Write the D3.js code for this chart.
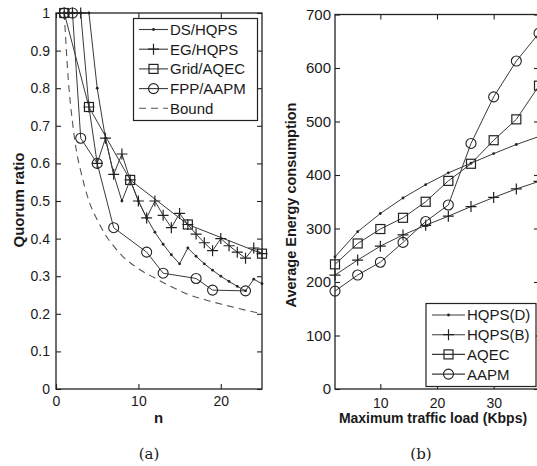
<!DOCTYPE html>
<html>
<head>
<meta charset="utf-8">
<script src="https://cdn.jsdelivr.net/npm/d3@7/dist/d3.min.js"></script>
<style>
  body { margin: 0; background: #fff; }
  svg { display: block; }
  text { font-family: "Liberation Sans", Arial, sans-serif; fill: #1a1a1a; }
</style>
</head>
<body>
<svg id="fig" width="537" height="466"></svg>
<script>
// ---- (a) quorum ratio vs n ----
const dsN = [1, 2, 3, 4, 5, 6, 7, 8, 9, 10, 11, 12, 13, 14, 15, 16, 17, 18, 19, 20, 21, 22, 23, 24, 25];
const dsRatio = [1, 1, 1, 1, 0.8, 0.667, 0.571, 0.5, 0.556, 0.5, 0.455, 0.417, 0.385, 0.357, 0.333,
  0.375, 0.353, 0.333, 0.316, 0.3, 0.286, 0.273, 0.261, 0.292, 0.28];
const egN = [1, 2, 3, 4, 5, 6, 7, 8, 9, 10, 11, 12, 13, 14, 15, 16, 17, 18, 19, 20, 21, 22, 23, 24, 25];
const egRatio = [1, 1, 1, 0.75, 0.6, 0.667, 0.571, 0.625, 0.556, 0.5, 0.455, 0.5, 0.462, 0.429, 0.467,
  0.4375, 0.412, 0.389, 0.368, 0.4, 0.381, 0.364, 0.348, 0.375, 0.36];
const gridN = [1, 4, 9, 16, 25];
const gridRatio = [1, 0.75, 0.556, 0.4375, 0.36];
const fppN = [1, 2, 3, 5, 7, 11, 13, 17, 19, 23];
const fppRatio = [1, 1, 0.667, 0.6, 0.429, 0.364, 0.308, 0.294, 0.263, 0.261];
const boundN = [1, 1.5, 2, 2.5, 3, 4, 5, 6, 7, 8, 10, 12, 14, 16, 18, 20, 22, 25];
const boundRatio = [1, 0.82, 0.71, 0.63, 0.58, 0.5, 0.45, 0.41, 0.38, 0.355, 0.32, 0.295, 0.272,
  0.252, 0.238, 0.226, 0.215, 0.2];
const legendA = ["DS/HQPS", "EG/HQPS", "Grid/AQEC", "FPP/AAPM", "Bound"];
const xTicksA = [0, 10, 20];
const yTicksA = [0, 0.1, 0.2, 0.3, 0.4, 0.5, 0.6, 0.7, 0.8, 0.9, 1];

// ---- (b) energy vs traffic load ----
const loadKbps = [2, 6, 10, 14, 18, 22, 26, 30, 34, 38];
const hqpsD = [247, 294, 328, 357, 382, 404, 422, 440, 457, 472];
const hqpsB = [213, 241, 267, 288, 306, 323, 341, 358, 374, 388];
const aqec = [233, 272, 299, 320, 350, 389, 421, 465, 504, 567];
const aapm = [183, 213, 237, 274, 313, 344, 459, 546, 613, 665];
const legendB = ["HQPS(D)", "HQPS(B)", "AQEC", "AAPM"];
const xTicksB = [10, 20, 30];
const yTicksB = [0, 100, 200, 300, 400, 500, 600, 700];

const ink = "#222";
const lineCol = "#3a3a3a";
const svg = d3.select("#fig");

function zip(xs, ys) { return xs.map((x, i) => [x, ys[i]]); }

function marker(g, type, cx, cy) {
  if (type === "dot") {
    g.append("circle").attr("cx", cx).attr("cy", cy).attr("r", 1.4).attr("fill", ink);
  } else if (type === "plus") {
    g.append("path").attr("d", `M${cx - 5.5},${cy}H${cx + 5.5}M${cx},${cy - 5.5}V${cy + 5.5}`)
      .attr("stroke", ink).attr("stroke-width", 1.2).attr("fill", "none");
  } else if (type === "square") {
    g.append("rect").attr("x", cx - 4.5).attr("y", cy - 4.5).attr("width", 9).attr("height", 9)
      .attr("stroke", ink).attr("stroke-width", 1.2).attr("fill", "none");
  } else if (type === "circle") {
    g.append("circle").attr("cx", cx).attr("cy", cy).attr("r", 5)
      .attr("stroke", ink).attr("stroke-width", 1.1).attr("fill", "none");
  }
}

function series(g, x, y, pts, type, dashed, curve) {
  const line = d3.line().x(d => x(d[0])).y(d => y(d[1]));
  if (curve) line.curve(d3.curveMonotoneX);
  g.append("path").datum(pts).attr("d", line).attr("fill", "none")
    .attr("stroke", dashed ? "#555" : lineCol).attr("stroke-width", dashed ? 1.1 : 1)
    .attr("stroke-dasharray", dashed ? "7,5" : null);
  if (type) pts.forEach(d => marker(g, type, x(d[0]), y(d[1])));
}

function axes(x, y, xTicks, yTicks, yFmt, opt) {
  const [x0, x1] = x.range();
  const [y0, y1] = y.range();
  const bottom = svg.append("g").attr("transform", `translate(0,${y0})`)
    .call(d3.axisBottom(x).tickValues(xTicks).tickSize(-5).tickPadding(opt.xPad));
  svg.append("g").attr("transform", `translate(0,${y1})`)
    .call(d3.axisTop(x).tickValues(xTicks).tickSize(-5).tickFormat(""));
  const left = svg.append("g").attr("transform", `translate(${x0},0)`)
    .call(d3.axisLeft(y).tickValues(yTicks).tickSize(-5).tickPadding(opt.yPad).tickFormat(yFmt));
  svg.append("g").attr("transform", `translate(${x1},0)`)
    .call(d3.axisRight(y).tickValues(yTicks).tickSize(-5).tickFormat(""));
  svg.selectAll(".domain").remove();
  svg.selectAll(".tick line").attr("stroke", ink).attr("stroke-width", 1.1);
  bottom.selectAll("text").style("font-size", opt.xFont + "px").attr("fill", "#1a1a1a");
  left.selectAll("text").style("font-size", opt.yFont + "px").attr("fill", "#1a1a1a");
  svg.append("rect").attr("x", x0).attr("y", y1).attr("width", x1 - x0).attr("height", y0 - y1)
    .attr("fill", "none").attr("stroke", ink).attr("stroke-width", 1.3);
}

function legend(lx, ly, w, h, rowY, names, types, dashIdx, lineX, textX) {
  const g = svg.append("g");
  g.append("rect").attr("x", lx).attr("y", ly).attr("width", w).attr("height", h)
    .attr("fill", "#fff").attr("stroke", ink).attr("stroke-width", 1.2);
  names.forEach((nm, i) => {
    const yy = rowY[i];
    g.append("line").attr("x1", lineX[0]).attr("x2", lineX[1]).attr("y1", yy).attr("y2", yy)
      .attr("stroke", i === dashIdx ? "#555" : lineCol).attr("stroke-width", 1.1)
      .attr("stroke-dasharray", i === dashIdx ? "7,5" : null);
    if (types[i]) marker(g, types[i], (lineX[0] + lineX[1]) / 2, yy);
    g.append("text").attr("x", textX).attr("y", yy).attr("dy", "0.36em")
      .style("font-size", "15px").text(nm);
  });
}

// ---------- chart (a) ----------
const xA = d3.scaleLinear().domain([0, 25]).range([56, 262]);
const yA = d3.scaleLinear().domain([0, 1]).range([389, 13]);
const gA = svg.append("g");
series(gA, xA, yA, zip(boundN, boundRatio), null, true, true);
series(gA, xA, yA, zip(fppN, fppRatio), "circle");
series(gA, xA, yA, zip(gridN, gridRatio), "square");
series(gA, xA, yA, zip(egN, egRatio), "plus");
series(gA, xA, yA, zip(dsN, dsRatio), "dot");
axes(xA, yA, xTicksA, yTicksA, d3.format("~g"), { xPad: 7, yPad: 6, xFont: 14, yFont: 14 });
legend(133.5, 18.5, 124, 102, [29.5, 49.2, 68.9, 88.6, 108.3], legendA,
  ["dot", "plus", "square", "circle", null], 4, [139, 168], 170);

svg.append("text").attr("transform", "translate(23.5,200) rotate(-90)").attr("text-anchor", "middle")
  .style("font-size", "15px").style("font-weight", "bold").text("Quorum ratio");
svg.append("text").attr("x", 158.5).attr("y", 422.5).attr("text-anchor", "middle")
  .style("font-size", "15px").style("font-weight", "bold").text("n");
svg.append("text").attr("x", 149).attr("y", 459).attr("text-anchor", "middle")
  .style("font-family", "'DejaVu Serif', serif").style("font-size", "15px").text("(a)");

// ---------- chart (b) ----------
const xB = d3.scaleLinear().domain([2, 38]).range([335, 539]);
const yB = d3.scaleLinear().domain([0, 700]).range([389, 14.5]);
const gB = svg.append("g");
series(gB, xB, yB, zip(loadKbps, hqpsD), "dot");
series(gB, xB, yB, zip(loadKbps, hqpsB), "plus");
series(gB, xB, yB, zip(loadKbps, aqec), "square");
series(gB, xB, yB, zip(loadKbps, aapm), "circle");
axes(xB, yB, xTicksB, yTicksB, d3.format("d"), { xPad: 9, yPad: 4, xFont: 14, yFont: 15 });
legend(426, 303.5, 110, 83, [315, 334.7, 354.4, 374.1], legendB,
  ["dot", "plus", "square", "circle"], -1, [432, 465], 467);

svg.append("text").attr("transform", "translate(295.5,205) rotate(-90)").attr("text-anchor", "middle")
  .style("font-size", "14.5px").style("font-weight", "bold").text("Average Energy consumption");
svg.append("text").attr("x", 433).attr("y", 423).attr("text-anchor", "middle")
  .style("font-size", "14px").style("font-weight", "bold").text("Maximum traffic load (Kbps)");
svg.append("text").attr("x", 421).attr("y", 459).attr("text-anchor", "middle")
  .style("font-family", "'DejaVu Serif', serif").style("font-size", "15px").text("(b)");
</script>
</body>
</html>
